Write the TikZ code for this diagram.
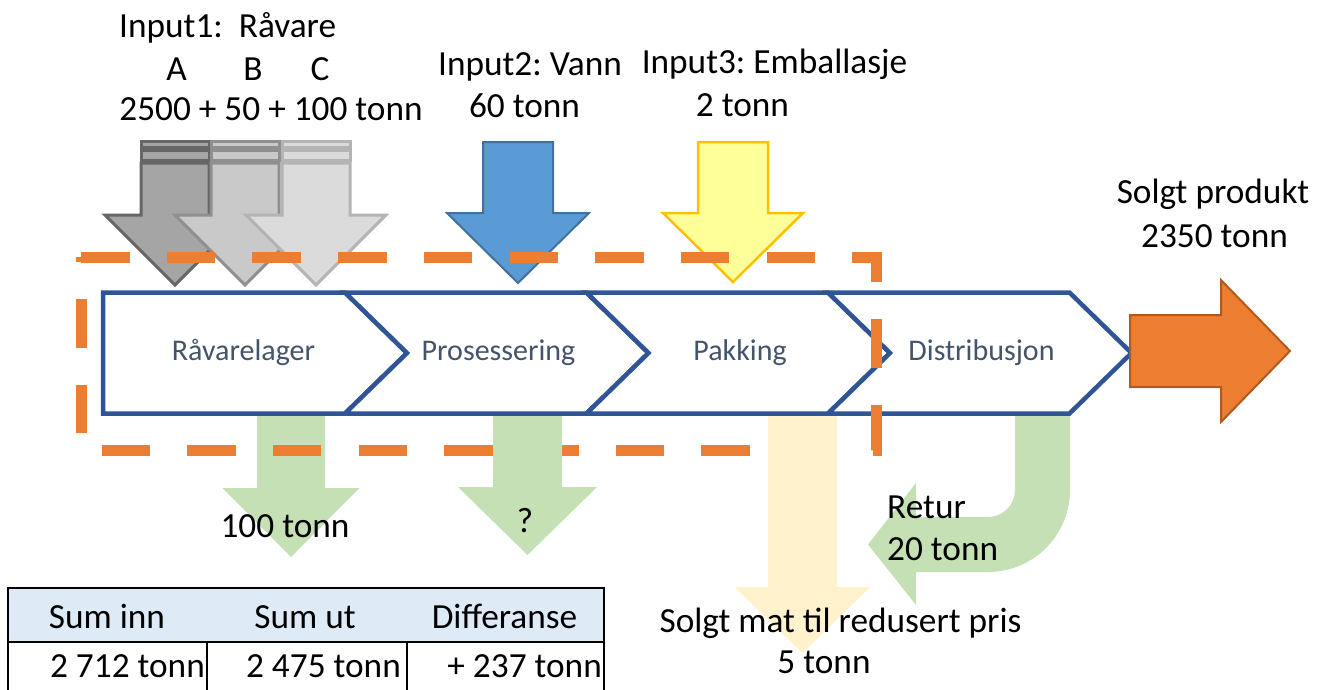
\documentclass[tikz,border=0pt]{standalone}
\usepackage{fontspec}
\setmainfont{Carlito}
\frenchspacing
\definecolor{chevblue}{HTML}{2F5597}
\definecolor{labelgray}{HTML}{44546A}
\definecolor{orgfill}{HTML}{ED7D31}
\definecolor{orgline}{HTML}{B05A1F}
\definecolor{grnfill}{HTML}{C5E0B4}
\definecolor{ltyel}{HTML}{FFF2CC}
\definecolor{bluefill}{HTML}{5B9BD5}
\definecolor{blueline}{HTML}{41719C}
\definecolor{yelfill}{HTML}{FFFF99}
\definecolor{yelline}{HTML}{FFC000}
\definecolor{hdrfill}{HTML}{DEEBF7}
\definecolor{grayAf}{HTML}{A5A5A5}
\definecolor{grayAl}{HTML}{666666}
\definecolor{grayBf}{HTML}{C9C9C9}
\definecolor{grayBl}{HTML}{8F8F8F}
\definecolor{grayCf}{HTML}{DBDBDB}
\definecolor{grayCl}{HTML}{B4B4B4}
\newcommand{\DnArrow}[7]{%
  \path[#1] ({#2-#3},#5) -- ({#2+#3},#5) -- ({#2+#3},#6) -- ({#2+#4},#6) -- (#2,#7) -- ({#2-#4},#6) -- ({#2-#3},#6) -- cycle;}
\newcommand{\StripedArrow}[2]{%
  \path[#1] ({#2-34},141.5) rectangle ({#2+34},147.5);
  \path[#1] ({#2-34},150.5) rectangle ({#2+34},160);
  \DnArrow{#1}{#2}{34}{70}{163}{215}{285}}
\tikzset{
  txt/.style={font=\fontsize{35.3}{42}\selectfont, inner sep=0pt, anchor=base, text=black},
  lbl/.style={font=\fontsize{30}{36}\selectfont, inner sep=0pt, anchor=base, text=labelgray},
  chev/.style={draw=chevblue, line width=4.5pt, line join=miter, fill=white},
  dashbox/.style={draw=orgfill, line width=11pt, line cap=butt, line join=miter, dash pattern=on 48.5pt off 37.2pt},
  grayA/.style={fill=grayAf, draw=grayAl, line width=3pt},
  grayB/.style={fill=grayBf, draw=grayBl, line width=3pt},
  grayC/.style={fill=grayCf, draw=grayCl, line width=3pt},
  bluearr/.style={fill=bluefill, draw=blueline, line width=2pt},
  yelarr/.style={fill=yelfill, draw=yelline, line width=2.5pt},
  grnarr/.style={fill=grnfill},
  ltyarr/.style={fill=ltyel},
  outarr/.style={fill=orgfill, draw=orgline, line width=2pt},
  tbl/.style={draw=black, line width=2pt}
}
\begin{document}
\begin{tikzpicture}[x=1pt,y=-1pt]
\useasboundingbox (0,0) rectangle (1327,689);
% input arrows
\StripedArrow{grayA}{175}
\StripedArrow{grayB}{245}
\StripedArrow{grayC}{316}
\DnArrow{bluearr}{518}{35}{71}{142}{213}{283}
\DnArrow{yelarr}{733}{35}{70}{142}{213}{282}
% chevrons
\path[chev] (103,292.5) -- (345,292.5) -- (407,353) -- (345,413.5) -- (103,413.5) -- cycle;
\path[chev] (345,292.5) -- (586.5,292.5) -- (648.5,353) -- (586.5,413.5) -- (345,413.5) -- (407,353) -- cycle;
\path[chev] (586.5,292.5) -- (828,292.5) -- (890,353) -- (828,413.5) -- (586.5,413.5) -- (648.5,353) -- cycle;
\path[chev] (828,292.5) -- (1069.5,292.5) -- (1131.5,353) -- (1069.5,413.5) -- (828,413.5) -- (890,353) -- cycle;
\node[lbl] (l1) at (243.5,360) {Råvarelager};
\node[lbl] (l2) at (498.5,360) {Prosessering};
\node[lbl] (l3) at (740,360) {Pakking};
\node[lbl] (l4) at (981.5,360) {Distribusjon};
% green arrow 1 (under dashes)
\DnArrow{grnarr}{291}{34}{68.5}{416}{488}{557}
% dashed boundary
\path[dashbox] (81,257) -- (876,257) -- (876,450) -- (81,450) -- cycle;
% outputs
\DnArrow{grnarr}{527.5}{34.5}{69.5}{416}{487}{555}
\DnArrow{ltyarr}{802.5}{34.5}{68}{416}{587}{653}
\path[grnarr] (1015,416) -- (1015,490) .. controls (1015,504.9) and (1002.9,517) .. (988,517)
  -- (916,517) -- (916,483) -- (868,544.5) -- (916,605) -- (916,572) -- (988,572)
  .. controls (1033.3,572) and (1070,535.3) .. (1070,490) -- (1070,416) -- cycle;
\path[outarr] (1130,315) -- (1221,315) -- (1221,280) -- (1290,351) -- (1221,422) -- (1221,387) -- (1130,387) -- cycle;
% texts
\node[txt, anchor=base west] (t1) at (119,37) {Input1:\ \ Råvare};
\node[txt] (ta) at (176.7,80) {A};
\node[txt] (tb) at (253,80) {B};
\node[txt] (tc) at (320,80) {C};
\node[txt] (t1b) at (271,120) {2500 + 50 + 100 tonn};
\node[txt] (t2) at (530,75) {Input2: Vann};
\node[txt] (t2b) at (524.5,117) {60 tonn};
\node[txt] (t3) at (774.5,73) {Input3: Emballasje};
\node[txt] (t3b) at (742.5,116) {2 tonn};
\node[txt] (sp) at (1213,203) {Solgt produkt};
\node[txt] (spb) at (1214.5,247) {2350 tonn};
\node[txt] (o1) at (285,537) {100 tonn};
\node[txt] (o2) at (525,532) {?};
\node[txt, anchor=base west] (r1) at (887,518) {Retur};
\node[txt, anchor=base west] (r2) at (887,560) {20 tonn};
\node[txt] (sm) at (840.5,632) {Solgt mat til redusert pris};
\node[txt] (smb) at (824,673) {5 tonn};
% table
\path[fill=hdrfill] (8,588) rectangle (604,642);
\draw[tbl] (8,700) -- (8,588) -- (604,588) -- (604,700);
\draw[tbl] (8,642) -- (604,642);
\draw[tbl] (207,642) -- (207,700);
\draw[tbl] (407,642) -- (407,700);
\node[txt] (h1) at (107,628) {Sum inn};
\node[txt] (h2) at (305,628) {Sum ut};
\node[txt] (h3) at (504.5,628) {Differanse};
\node[txt, anchor=base east] (c1) at (205,677) {2 712 tonn};
\node[txt, anchor=base east] (c2) at (401,677) {2 475 tonn};
\node[txt, anchor=base east] (c3) at (602,677) {+ 237 tonn};
\end{tikzpicture}
\end{document}
